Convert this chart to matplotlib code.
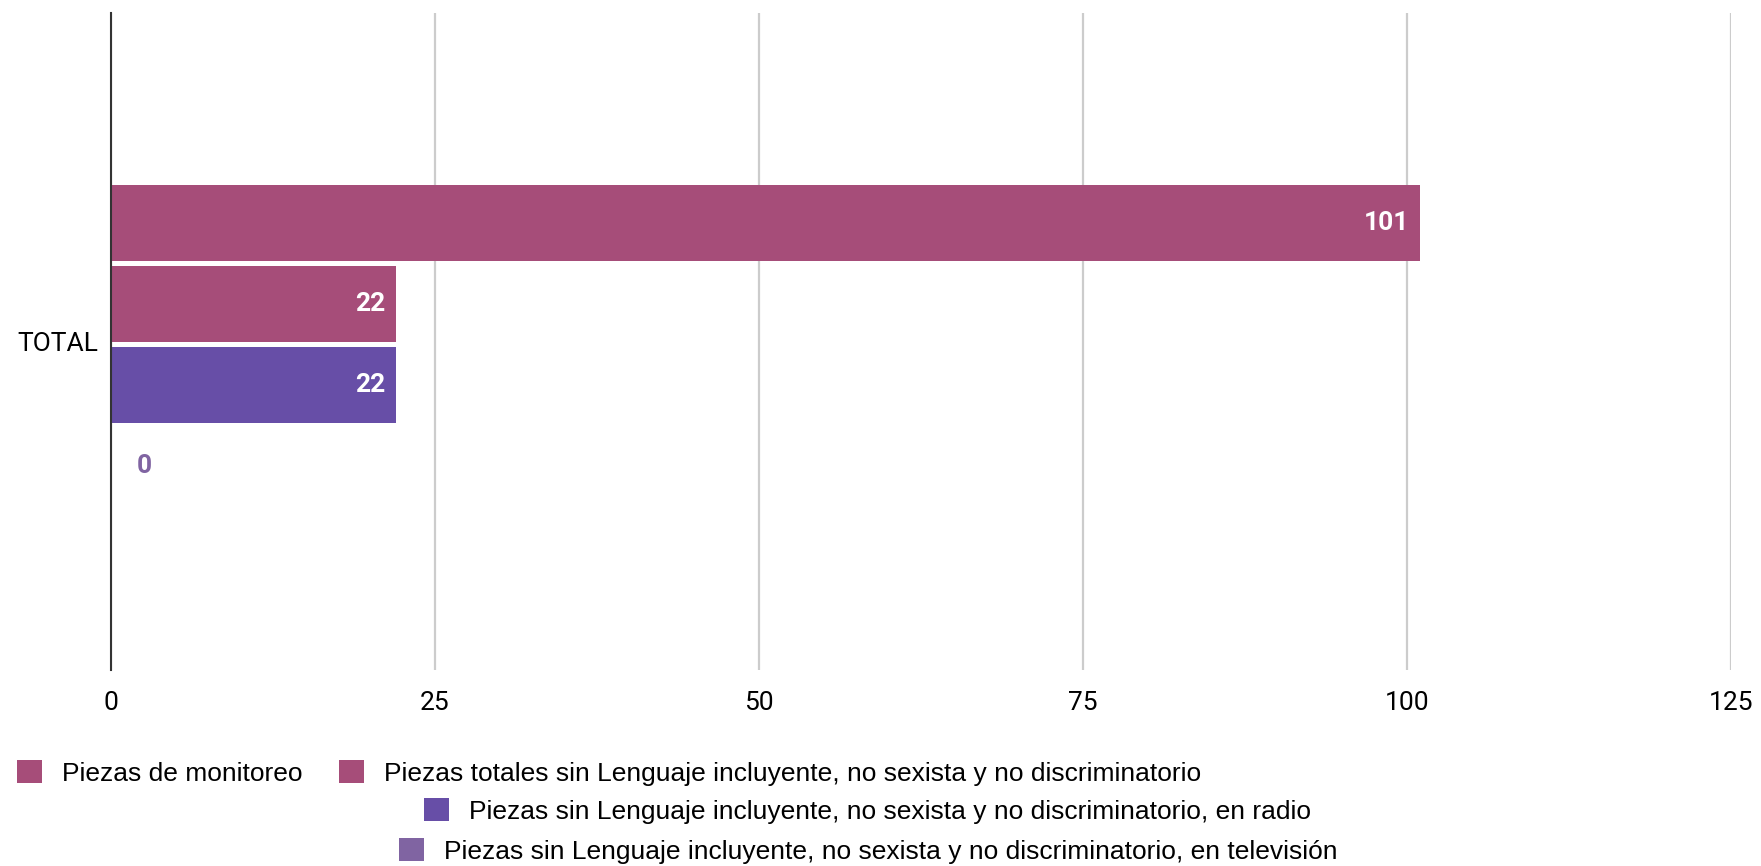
import matplotlib
matplotlib.use("Agg")
import matplotlib.pyplot as plt
from matplotlib.patches import Patch

# data
category = "TOTAL"
series = [
    "Piezas de monitoreo",
    "Piezas totales sin Lenguaje incluyente, no sexista y no discriminatorio",
    "Piezas sin Lenguaje incluyente, no sexista y no discriminatorio, en radio",
    "Piezas sin Lenguaje incluyente, no sexista y no discriminatorio, en televisión",
]
values = [101, 22, 22, 0]
colors = ["#a64d79", "#a64d79", "#674ea7", "#8064a2"]
xticks = [0, 25, 50, 75, 100, 125]

plt.rcParams["font.family"] = ["Roboto", "DejaVu Sans"]

fig = plt.figure(figsize=(17.61, 8.66), dpi=100)
ax = fig.add_axes([0.063, 0.2263, 0.920, 0.7587])

pitch = 0.1233
height = 0.1157
offsets = [1.5 * pitch - 0.005, 0.5 * pitch - 0.005, -0.5 * pitch - 0.005, -1.5 * pitch - 0.005]

for v, c, off in zip(values, colors, offsets):
    ax.barh(off, v, height=height, color=c, zorder=3)
    if v > 0:
        ax.annotate(str(v), (v, off), xytext=(-8, 0), textcoords="offset points",
                    ha="right", va="center", color="white", fontsize=19,
                    fontweight="bold", zorder=4)
    else:
        ax.annotate(str(v), (v, off), xytext=(24, 0), textcoords="offset points",
                    ha="center", va="center", color=c, fontsize=19,
                    fontweight="bold", zorder=4)

ax.set_xlim(0, 125)
ax.set_ylim(-0.5, 0.5)
ax.set_xticks(xticks)
ax.set_xticklabels([str(t) for t in xticks])
ax.set_yticks([0])
ax.set_yticklabels([category])
ax.tick_params(axis="x", length=0, pad=15, labelsize=19)
ax.tick_params(axis="y", length=0, pad=9, labelsize=19)

ax.grid(axis="x", color="#cccccc", linewidth=1.6, zorder=0)
ax.set_axisbelow(True)
for s in ["top", "right", "bottom"]:
    ax.spines[s].set_visible(False)
ax.spines["left"].set_color("#333333")
ax.spines["left"].set_linewidth(1.5)
ax.spines["left"].set_zorder(5)

handles = [Patch(facecolor=c, edgecolor="none") for c in colors]
common = dict(frameon=False, handlelength=0.95, handleheight=0.95,
              handletextpad=0.76, borderpad=0, borderaxespad=0,
              prop={"family": ["Liberation Sans", "DejaVu Sans"], "size": 19})

fig.legend(handles[:2], series[:2], loc="center left", bbox_to_anchor=(0.0097, 0.1074),
           ncol=2, columnspacing=1.36, **common)
fig.legend(handles[2:3], series[2:3], loc="center left", bbox_to_anchor=(0.2408, 0.0635), **common)
fig.legend(handles[3:4], series[3:4], loc="center left", bbox_to_anchor=(0.2266, 0.0173), **common)

fig.savefig("out.png", dpi=100, facecolor="white")
